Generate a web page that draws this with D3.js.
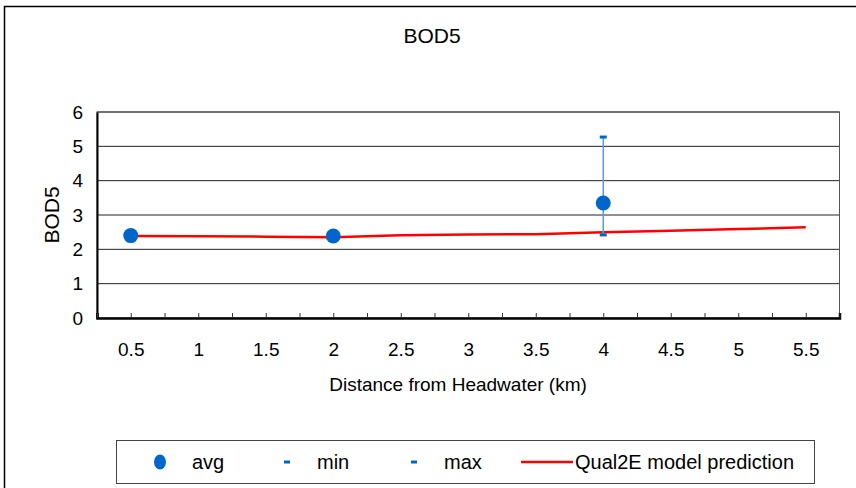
<!DOCTYPE html>
<html>
<head>
<meta charset="utf-8">
<script src="https://cdn.jsdelivr.net/npm/d3@7"></script>
<style>
  body { margin: 0; background: #fff; }
  svg { display: block; font-family: "Liberation Sans", Arial, sans-serif; }
</style>
</head>
<body>
<div id="container"></div>
<script>
let width = 856;
let height = 488;

// observed data (distance km)
var obsX = [0.5, 2, 4];
var obsAvg = [2.4, 2.39, 3.35];
var obsMin = [null, null, 2.42];
var obsMax = [null, null, 5.27];

// Qual2E model
var modelX = [0.5, 1, 1.5, 2, 2.5, 3, 3.5, 4, 4.5, 5, 5.5];
var modelY = [2.39, 2.38, 2.37, 2.35, 2.41, 2.43, 2.44, 2.5, 2.54, 2.59, 2.64];

var xTickLabels = ["0.5", "1", "1.5", "2", "2.5", "3", "3.5", "4", "4.5", "5", "5.5"];
var yTicks = [0, 1, 2, 3, 4, 5, 6];

let viz = d3.select("#container").append("svg")
    .attr("width", width)
    .attr("height", height);

// outer chart border (runs off right/bottom)
viz.append("path")
  .attr("d", "M4.5,488 V6.5 H856")
  .attr("fill", "none")
  .attr("stroke", "#000")
  .attr("stroke-width", 1.5);

let plotL = 97, plotR = 839.5, plotT = 112, plotB = 318;

let x = d3.scaleLinear().domain([0.25, 5.75]).range([plotL, plotR]);
let y = d3.scaleLinear().domain([0, 6]).range([plotB, plotT]);

// gridlines
viz.append("g")
  .selectAll("line")
  .data(yTicks.filter(d => d > 0))
  .enter().append("line")
    .attr("x1", plotL).attr("x2", plotR)
    .attr("y1", d => y(d)).attr("y2", d => y(d))
    .attr("stroke", "#222")
    .attr("stroke-width", 1);

// plot frame
viz.append("rect")
  .attr("x", plotL).attr("y", plotT)
  .attr("width", plotR - plotL).attr("height", plotB - plotT)
  .attr("fill", "none")
  .attr("stroke", "#555")
  .attr("stroke-width", 1);

// axes
let yAxis = d3.axisLeft(y).tickValues(yTicks).tickFormat(d3.format("d")).tickSize(0).tickPadding(14);
let yg = viz.append("g").attr("transform", "translate(" + plotL + ",0)").call(yAxis);
yg.select(".domain").attr("stroke", "#000").attr("stroke-width", 2);
yg.selectAll("text").style("font-size", "19px").attr("fill", "#000");

let xAxis = d3.axisBottom(x)
  .tickValues(d3.range(0.25, 5.76, 0.25))
  .tickSize(-5)
  .tickFormat(function(d) {
    let i = xTickLabels.indexOf(String(d));
    return i >= 0 ? xTickLabels[i] : "";
  });
let xg = viz.append("g").attr("transform", "translate(0," + plotB + ")").call(xAxis);
xg.select(".domain").attr("stroke", "#000").attr("stroke-width", 2.5);
xg.selectAll("line").attr("stroke", "#333");
xg.selectAll("text").attr("y", 25).style("font-size", "19px").attr("fill", "#000");

// axis titles
viz.append("text")
  .attr("x", 432).attr("y", 43)
  .attr("text-anchor", "middle")
  .style("font-size", "21px")
  .text("BOD5");

viz.append("text")
  .attr("transform", "translate(59,215) rotate(-90)")
  .attr("text-anchor", "middle")
  .style("font-size", "21px")
  .text("BOD5");

viz.append("text")
  .attr("x", 458).attr("y", 391)
  .attr("text-anchor", "middle")
  .style("font-size", "19px")
  .text("Distance from Headwater (km)");

// model line
let line = d3.line().x(d => x(d[0])).y(d => y(d[1]));
viz.append("path")
  .datum(modelX.map((d, i) => [d, modelY[i]]))
  .attr("d", line)
  .attr("fill", "none")
  .attr("stroke", "#ff0000")
  .attr("stroke-width", 2.5);

// error bars
let errData = obsX.map((d, i) => ({x: d, lo: obsMin[i], hi: obsMax[i]})).filter(d => d.lo != null);
viz.append("g").selectAll("line")
  .data(errData)
  .enter().append("line")
    .attr("x1", d => x(d.x)).attr("x2", d => x(d.x))
    .attr("y1", d => y(d.lo)).attr("y2", d => y(d.hi))
    .attr("stroke", "#5b9be0")
    .attr("stroke-width", 1.5);

let caps = [];
errData.forEach(function(d) { caps.push({x: d.x, v: d.lo}); caps.push({x: d.x, v: d.hi}); });
viz.append("g").selectAll("rect")
  .data(caps)
  .enter().append("rect")
    .attr("x", d => x(d.x) - 3.5).attr("y", d => y(d.v) - 1.5)
    .attr("width", 7).attr("height", 3)
    .attr("fill", "#0066cc");

// avg points
viz.append("g").selectAll("circle")
  .data(obsX.map((d, i) => [d, obsAvg[i]]))
  .enter().append("circle")
    .attr("cx", d => x(d[0])).attr("cy", d => y(d[1]))
    .attr("r", 7.5)
    .attr("fill", "#0066cc");

// legend
let legend = viz.append("g");
legend.append("rect")
  .attr("x", 116.5).attr("y", 440.5)
  .attr("width", 698).attr("height", 43)
  .attr("fill", "#fff")
  .attr("stroke", "#444")
  .attr("stroke-width", 1);

let ly = 462;
legend.append("ellipse").attr("cx", 160).attr("cy", ly).attr("rx", 6).attr("ry", 7.5).attr("fill", "#0066cc");
legend.append("rect").attr("x", 284).attr("y", ly - 1.5).attr("width", 6).attr("height", 3).attr("fill", "#0066cc");
legend.append("rect").attr("x", 411).attr("y", ly - 1.5).attr("width", 6).attr("height", 3).attr("fill", "#0066cc");
legend.append("line").attr("x1", 521).attr("x2", 573).attr("y1", ly).attr("y2", ly)
  .attr("stroke", "#ff0000").attr("stroke-width", 2.5);

let legendText = [
  {t: "avg", x: 192},
  {t: "min", x: 317},
  {t: "max", x: 444},
  {t: "Qual2E model prediction", x: 575}
];
legend.selectAll("text.lt")
  .data(legendText)
  .enter().append("text")
    .attr("class", "lt")
    .attr("x", d => d.x).attr("y", ly + 7)
    .style("font-size", "20px")
    .text(d => d.t);
</script>
</body>
</html>
